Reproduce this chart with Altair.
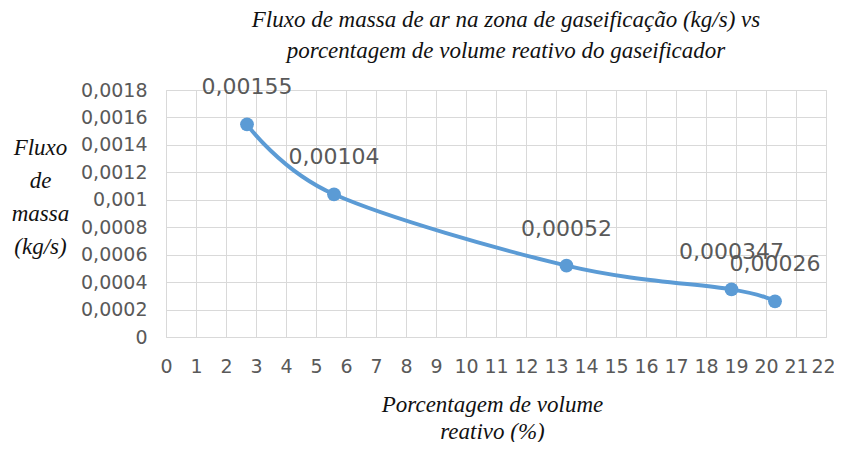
import altair as alt
import pandas as pd

# Data
volume_pct = [2.7, 5.6, 13.35, 18.85, 20.3]
mass_flow = [0.00155, 0.00104, 0.00052, 0.000347, 0.00026]
point_labels = ["0,00155", "0,00104", "0,00052", "0,000347", "0,00026"]
x_ticks = list(range(0, 23))
y_ticks = [0, 0.0002, 0.0004, 0.0006, 0.0008, 0.001, 0.0012, 0.0014, 0.0016, 0.0018]

df = pd.DataFrame({"x": volume_pct, "y": mass_flow, "label": point_labels})

BLUE = "#5B9BD5"
GRAY_TXT = "#595959"
GRID = "#D9D9D9"
SERIF = "Liberation Serif"

x_enc = alt.X(
    "x:Q",
    scale=alt.Scale(domain=[0, 22], nice=False, zero=True),
    axis=alt.Axis(
        values=x_ticks,
        tickCount=23,
        title=["Porcentagem de volume", "reativo (%)"],
        titleFont=SERIF,
        titleFontStyle="italic",
        titleFontWeight="normal",
        titleFontSize=23,
        titleColor="#111111",
        titleLineHeight=27,
        titleAnchor="middle",
        titleBaseline="top",
        titleX=326,
        titleY=56,
        labelFont="DejaVu Sans",
        labelFontSize=19,
        labelColor=GRAY_TXT,
        labelPadding=20,
        labelOverlap=False,
        labelFlush=False,
        labelOffset=alt.condition("datum.value == 22", alt.value(-3), alt.value(0)),
        ticks=False,
        domain=False,
        grid=True,
        gridColor=GRID,
        gridWidth=1,
    ),
)

y_enc = alt.Y(
    "y:Q",
    scale=alt.Scale(domain=[0, 0.0018], nice=False),
    axis=alt.Axis(
        values=y_ticks,
        tickCount=10,
        labelExpr="replace(format(datum.value, '.4~f'), '.', ',')",
        title=["Fluxo", "de", "massa", "(kg/s)"],
        titleFont=SERIF,
        titleFontStyle="italic",
        titleFontWeight="normal",
        titleFontSize=23,
        titleColor="#111111",
        titleAngle=0,
        titleAlign="center",
        titleBaseline="top",
        titleLineHeight=33,
        titleX=-126,
        titleY=46,
        labelFont="DejaVu Sans",
        labelFontSize=19,
        labelColor=GRAY_TXT,
        labelPadding=19,
        labelOverlap=False,
        ticks=False,
        domain=False,
        grid=True,
        gridColor=GRID,
        gridWidth=1,
    ),
)

base = alt.Chart(df).encode(x=x_enc, y=y_enc)

line = base.mark_line(color=BLUE, strokeWidth=4, interpolate="cardinal")
points = base.mark_point(filled=True, color=BLUE, size=190, opacity=1)
labels = base.mark_text(
    font="DejaVu Sans", fontSize=22, color=GRAY_TXT, dy=-37, align="center", baseline="middle"
).encode(text="label:N")

chart = (
    alt.layer(line, points, labels)
    .properties(
        width=660,
        height=247,
        autosize=alt.AutoSizeParams(type="none"),
        padding={"left": 158, "top": 82, "right": 8, "bottom": 105},
        title=alt.TitleParams(
            ["Fluxo de massa de ar na zona de gaseificação (kg/s) vs",
             "porcentagem de volume reativo do gaseificador"],
            font=SERIF,
            fontStyle="italic",
            fontWeight="normal",
            fontSize=23,
            color="#111111",
            lineHeight=31,
            anchor="middle",
            offset=13,
            dx=10,
        ),
    )
    .configure_view(stroke=None)
    .configure(background="white")
)

chart.save("out.html", embed_options={"renderer": "svg", "actions": False})
